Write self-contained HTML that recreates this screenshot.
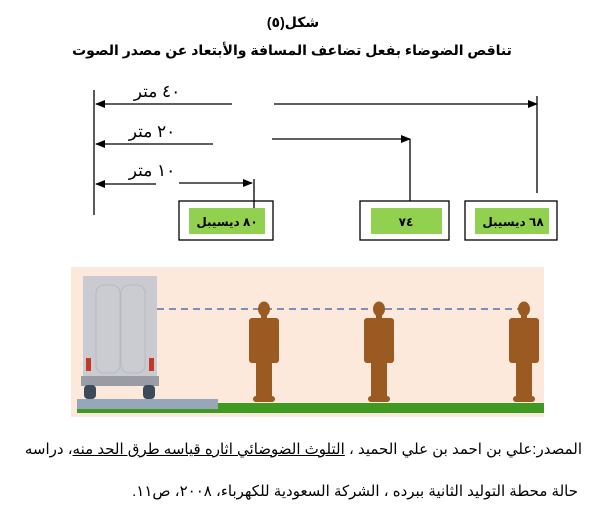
<!DOCTYPE html>
<html><head><meta charset="utf-8"><style>
body{margin:0;width:602px;height:518px;background:#fff;overflow:hidden;font-family:"Liberation Serif","Noto Sans CJK SC",serif;position:relative}
svg{position:absolute;left:0;top:0}
.t{font-family:"Liberation Sans","DejaVu Sans",sans-serif;}
.f{position:absolute;right:20px;direction:rtl;text-align:right;font-family:"Liberation Sans","DejaVu Sans",sans-serif;font-size:15px;white-space:nowrap;line-height:17px}
</style></head><body>
<svg width="602" height="518" viewBox="0 0 602 518">
<defs>
<marker id="a" markerWidth="10" markerHeight="8" refX="9" refY="4" orient="auto" markerUnits="userSpaceOnUse"><path d="M0,0 L10,4 L0,8z" fill="#000"/></marker>
<g id="p" fill="#9a5a22">
<ellipse cx="0" cy="8" rx="6" ry="7.5"/>
<rect x="-3" y="14" width="6" height="5"/>
<rect x="-15" y="17" width="30" height="45" rx="3"/>
<rect x="-8" y="60" width="16" height="38"/>
<rect x="-11" y="95" width="22" height="6" rx="3"/>
</g>
</defs>
<g class="t" font-weight="bold" text-anchor="middle" fill="#000">
<text x="293" y="27" font-size="14">شكل(٥)</text>
<text x="292" y="55" font-size="14" direction="rtl">تناقص الضوضاء بفعل تضاعف المسافة والأبتعاد عن مصدر الصوت</text>
</g>
<g stroke="#000" stroke-width="1.3" fill="none">
<line x1="94" y1="90" x2="94" y2="215"/>
<line x1="232" y1="104" x2="96" y2="104" marker-end="url(#a)"/>
<line x1="274" y1="104" x2="537" y2="104" marker-end="url(#a)"/>
<line x1="537" y1="96" x2="537" y2="193"/>
<line x1="213" y1="144" x2="96" y2="144" marker-end="url(#a)"/>
<line x1="272" y1="139" x2="410" y2="139" marker-end="url(#a)"/>
<line x1="410" y1="139" x2="410" y2="201"/>
<line x1="156" y1="184" x2="96" y2="184" marker-end="url(#a)"/>
<line x1="179" y1="183" x2="252" y2="183" marker-end="url(#a)"/>
<line x1="254" y1="179" x2="254" y2="210"/>
<rect x="179" y="201" width="94" height="39"/>
<rect x="360" y="201" width="89" height="39"/>
<rect x="465" y="201" width="92" height="39"/>
</g>
<rect x="189" y="208" width="76" height="26" fill="#92d050"/>
<rect x="371" y="208" width="71" height="26" fill="#92d050"/>
<rect x="475" y="208" width="74" height="26" fill="#92d050"/>
<g class="t" font-size="17" fill="#000" text-anchor="middle">
<text x="157" y="97">٤٠ متر</text>
<text x="152" y="137">٢٠ متر</text>
<text x="152" y="176">١٠  متر</text>
</g>
<g class="t" font-size="12" font-weight="bold" fill="#000" text-anchor="middle">
<text x="227" y="226">٨٠ ديسيبل</text>
<text x="406" y="226">٧٤</text>
<text x="513" y="226">٦٨ ديسيبل</text>
</g>
<rect x="71" y="267" width="473" height="150" fill="#fce9db"/>
<rect x="77" y="403" width="467" height="10" fill="#3e9a20"/>
<rect x="77" y="399" width="141" height="10" fill="#97a6b8"/>
<rect x="83" y="276" width="74" height="100" fill="#c9cbd1"/>
<rect x="96" y="285" width="24" height="88" rx="8" fill="#cbccd2" stroke="#b8b9c0"/>
<rect x="121" y="285" width="24" height="88" rx="8" fill="#cbccd2" stroke="#b8b9c0"/>
<rect x="86" y="358" width="5" height="13" fill="#c0392b"/>
<rect x="149" y="358" width="5" height="13" fill="#c0392b"/>
<rect x="81" y="376" width="78" height="10" fill="#9a9ca3"/>
<rect x="84" y="385" width="12" height="14" rx="4" fill="#3d4a5a"/>
<rect x="143" y="385" width="12" height="14" rx="4" fill="#3d4a5a"/>
<line x1="157" y1="309" x2="530" y2="309" stroke="#7f8fb8" stroke-width="2" stroke-dasharray="7,5"/>
<use href="#p" x="264" y="301"/>
<use href="#p" x="379" y="301"/>
<use href="#p" x="524" y="301"/>
</svg>
<div class="f" style="top:441px">المصدر:علي بن احمد بن علي الحميد ، <u>التلوث الضوضائي اثاره قياسه طرق الحد منه</u>، دراسه</div>
<div class="f" style="top:483px;right:24px">حالة محطة التوليد الثانية ببرده ، الشركة السعودية للكهرباء، ٢٠٠٨، ص١١.</div>
</body></html>
